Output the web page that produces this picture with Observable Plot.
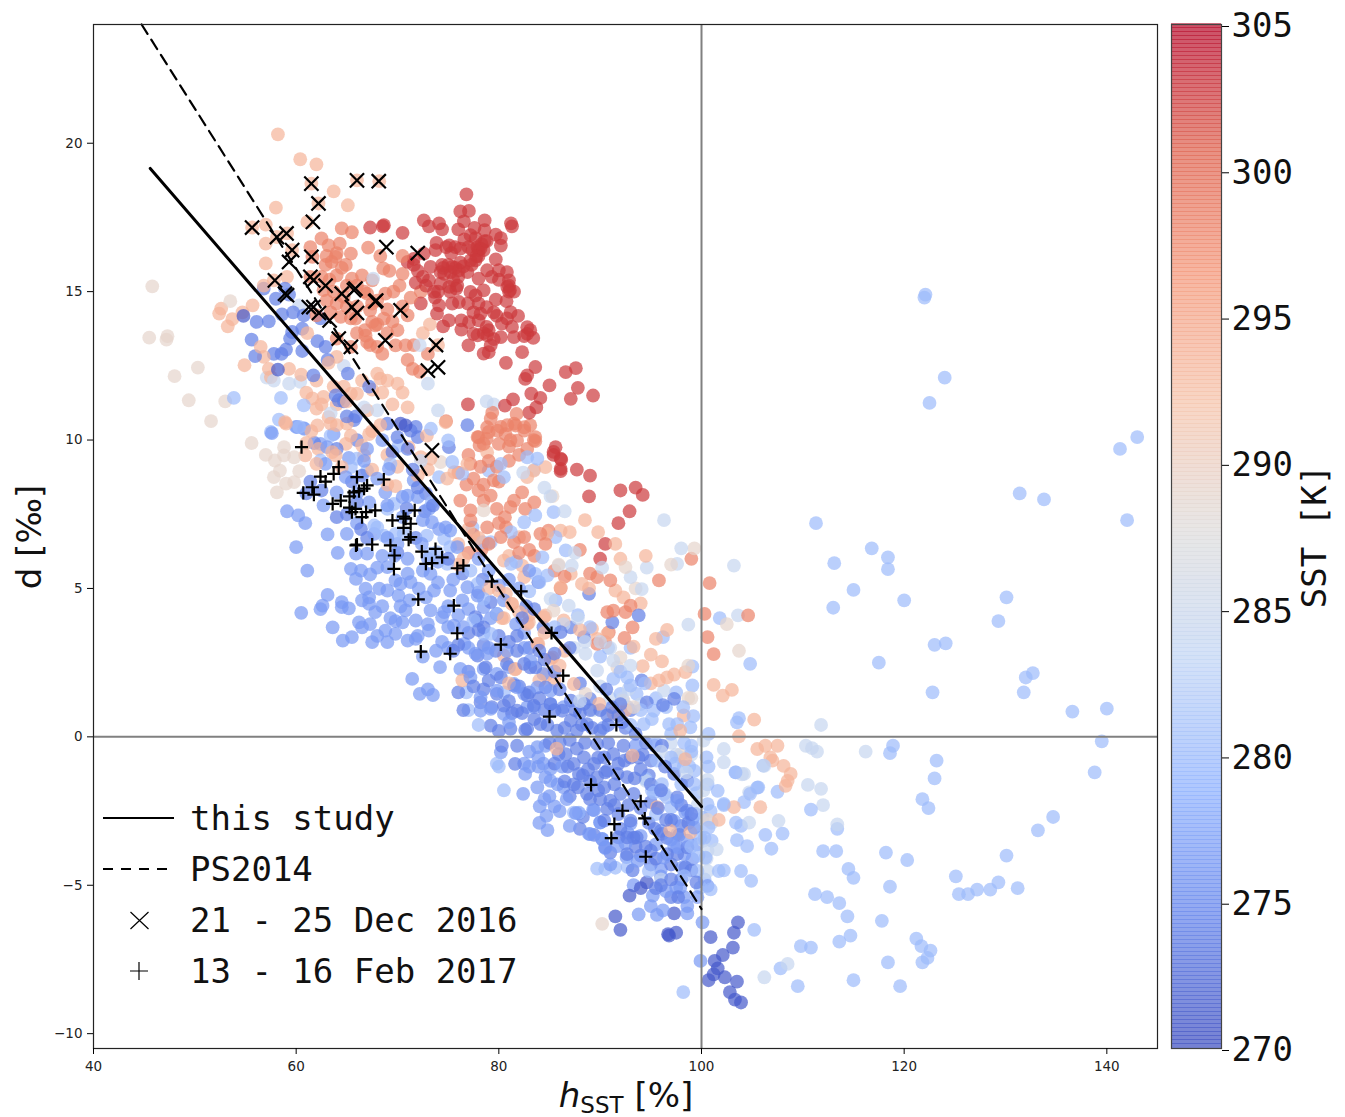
<!DOCTYPE html>
<html><head><meta charset="utf-8">
<script src="https://cdn.jsdelivr.net/npm/d3@7"></script>
<script src="https://cdn.jsdelivr.net/npm/@observablehq/plot@0.6"></script>
<style>html,body{margin:0;padding:0;background:#fff}#chart{position:relative;width:1345px;height:1117px;overflow:hidden}#chart svg{position:absolute;top:0;max-width:none}</style>
</head><body><div id="chart"></div>
<script>
const dark271=[[103.6,-6.25],[103.2,-6.6],[100.9,-6.75],[103.1,-7.1],[102.1,-7.35],[101.3,-7.55],[101.6,-7.8],[101.2,-8],[100.7,-8.2],[102.3,-8.1],[103.5,-8.25],[102.8,-8.6],[103.3,-8.85],[103.9,-8.95],[96.7,-6.65],[97.5,-6.6],[96.8,-6.7],[91.5,-6.05],[92,-6.5],[92.9,-5.35],[94,-5.1],[94.6,-4.9],[97.3,-5.95],[54.8,14.18],[58.2,12.37],[70.3,10.55],[70.8,10.49]];
const royal274=[[56.8,15.1],[58.9,15.1],[59.3,14.9],[58,14.76],[56.1,13.98],[57.3,14],[58.6,14.23],[59.7,14.3],[60.75,14.2],[59.6,13.64],[60.6,13.75],[59.4,13.42],[55.6,13.38],[55.95,12.83],[57.8,12.9],[58.55,12.9],[59,13.05],[60.6,13],[62.1,13.33],[62.9,13.14],[63.1,12.7],[62.4,14.1],[61.7,12.18],[65.1,12.24],[67.2,11.8],[63.9,11.5],[64.2,11.34],[64.7,11.3],[65.9,10.8],[65,10.8],[65.7,10.67],[69,10.55],[71.3,10.32],[72,10.1],[71.8,10.44],[76.9,10.5],[75.07,9.76],
[78,4.87],[79.2,4.54],[77.7,4.03],[78.5,3.69],[79.8,4.14],[77.9,2.74],[78.7,2.34],[79.7,2.9],[80.8,2.46],[81.8,2.9],[82.5,2.46],[83.6,2.34],[81.5,1.73],[79.8,1.45],[78.2,1.16],[80.5,1.05],[81.8,.88],[83.45,1.05],[81.15,.27],[82.6,.23],[84.1,.43],[85.1,1.11],[84.6,1.67],[86.25,.88],[87.1,1.22],[88.4,1.11],[89,1.28],[90.7,.72],[91.8,.72],[88.7,.43],[87.1,.55],[85.75,.21],[87.7,.21],[90,.21],[94.6,1.16],[96.2,1.07],[97.3,1.28],[94.1,1.9],[88.4,3.36],[87.1,3.69],[86.1,3.53],[88.9,4.82],[91.2,3.86],[93.8,4.09],[84.4,3.69],[83.9,5.21],[82.3,4],[83.1,2.34],
[85.9,-.58],[86.6,-.58],[87.4,-.91],[88.4,-.69],[87.9,-1.25],[89.4,-.91],[90.4,-.69],[91.3,-.58],[92.3,-.3],[90.7,-1.14],[89.7,-1.36],[91.7,-1.25],[92.66,-1.36],[87.4,-1.6],[90.4,-1.7],[88.7,-1.92],[91,-2.15],[92,-1.92],[93.3,-1.92],[89,-2.1],[95,-.8],[96.1,-.3],[97.3,-1.25],[98.6,-1.48],[97.6,-2.04],[96.4,-1],[89.7,-.24],[91.8,-2.6],[93,-2.82],[90.7,-2.43],[90.4,-2.82],[92.66,-3.39],[93.6,-3.39],[91.8,-3.39],[90.5,-3.72],[92.66,-3.95],[96.1,-3.27],[95,-3.83],[97.6,-3.95],[98.6,-3.72],[96.6,-3.95],[81.6,-.91],[81.8,-.3],[80.3,-.3],[79.2,.38],[82.8,.27],
[88,.8],[89,.9],[92.5,.3],[93.5,.1],[94.5,-.2],[93,-.7],[94,-1.1],[95,-1.6],[88.5,-.2],[90.8,-.2],[86.5,-1.5],[85.5,-.9],[96,-1.8],[97,-2.8],[98,-3],[99,-2.6],[95.4,-3.1],[94.5,-3.7],[83,1.5],[84.5,.9],[86,1.6],[88,1.8],[85.5,2.2],[82,1.7],[80,.2],[77,2.2],[76.5,.9],[79,1.9],[85,-.2],[92,1.1],[93,.9],[90.6,1.6],[91.8,-.9],[93.8,-.7],[87,-.1],[89,-1.5],[88.3,-2.7],[89.4,-3.3],[91,-3.9],[93.2,-4.5],[95,-4.3],[97,-4.8],[95.5,-5.1],[97.7,-5.4],
[76,1.5],[77.5,1.7],[78.5,1.6],[79.3,1],[80.2,2],[81,1.2],[81.3,.8],[82.3,.8],[82.8,1.4],[83.5,.6],[84,1.3],[84.8,.4],[85.5,.9],[86.5,.3],[87.5,.9],[88.2,.4],[89.2,.3],[90,.9],[90.8,.4],[91.2,1],[92.2,.5],[86,-.2],[86.8,-1],[87.7,-.4],[88.8,-1.1],[89.8,-.7],[90.5,-1.2],[91.4,-1.6],[92.4,-.8],[93.4,-1.4],[94.2,-.6],[94.8,-1.3],[95.4,-.3],[92.8,-2.3],[94,-2.4],[94.8,-2.9],[91.4,-2.3],[90,-2.1],[89.8,-1.8],[87,-2],[87.8,-1.7],[88.3,-1.3],[88,-3.1],[93.3,-3.4],[92,-3.1],[93.5,-3.7],[94,-4],[95.5,-4.1],[96.6,-3.4],[97.8,-3.3],[98.4,-4.4],[97,-4.3],[98,-4.8],[96,-5],[97,-5.4],[99,-4.5],[99.5,-4.9],[98.7,-2.9],[98,-2.3],[96.5,-2.8],[95.7,-2.4],[95,-2.2],[76,3.1],[77,3.5],[78.5,3.1],[80,3.4],[81,3.2],[81.8,3.4],[83,3],[84,2.9],[84.5,2.6],[85.5,2.8],[87,3],[78,3.6],[75.5,2.9],[82.7,4.4],[83.5,4.3],[78.4,5.3],[76.4,5.5],[75,6],[73.5,7.8],[72.8,8.2],[72,8.4],[71.5,9],[71,9.7],[70,10.1],[69.5,9.6],[66,10],[66.5,8.8],[65.5,8.6],[64,9.7],[62.5,8.3],[61.4,8.6],[61,8.2],[61.8,9.9],[66,7.9],[65,7.5],[64,7.4],[66.4,7],[67,6.7],[71.8,6.7],[70,6.2],[72.7,7.6],[70.9,7.7]];
const medium277=[[59.1,7.6],[60.2,7.46],[60.9,7.2],[63.1,6.82],[65,6.84],[60,6.39],[64.1,6.2],[61.1,5.6],[63.1,4.78],[62.6,4.42],[62.4,4.3],[64.5,4.54],[65.2,4.33],[64.5,4.37],[60.5,4.18],[63.6,3.69],[64.6,3.24],[65.5,3.36],[66.2,3.86],[66.5,3.69],[67.5,3.19],[69,3.19],[68.8,3.58],[69.8,3.47],[71,3.24],[71.8,3.3],[71.45,1.95],[73,1.6],[72.2,1.45],[73.5,1.41],[74.2,2.35],[73.8,2.9],[74.4,3.2],[73.1,3.58],[70.5,3.86],[71.8,3.92],[73,3.8],[74.4,4.03],[75.56,3.75],[76.6,3.13],[76.2,2.29],[77.2,2],[77.7,2.8],[78.5,2.29],[79.8,2.12],[81,2.35],[78.85,2.8],[80.8,2.9],[82.5,3],[83.1,2.57],[84.4,2.12],[83.8,1.67],[81.5,1.78],[79.8,1.56],[78.2,1.33],[78.2,.88],[79.2,.94],[80.5,.77],[82.8,1],[83.5,1],[85.1,1.1],[86.4,1],[81.8,1.67],[82.5,1.45],[85.1,1.56],
[65.4,5.66],[66.4,5.6],[67.3,5.47],[65.9,5.32],[66.85,4.99],[67.2,4.7],[67.2,4.48],[67.8,4.2],[68.2,4.99],[69,4.93],[70.1,4.76],[70.3,5.15],[69,5.72],[68.5,6.1],[67,6.17],[65.9,6.17],[67.7,6.84],[68.8,8.24],[69.15,9.03],[67.2,7.9],[64,8.24],[62.7,7.8],[64.9,8.75],[62.9,9.2],[66.7,9.3],[65.2,9.4],[63.7,10.2],[63.06,9.76],[57.6,10.23],[60,10.44],[60.8,10.38],[62.4,9.87],[72.1,4.99],[73.26,5.49],[73.6,4.93],[75.2,4.93],[76.9,5.04],[77.9,4.76],[76.4,4.6],[78.5,4.37],[79.2,4],[80.5,4.6],[77.9,3.92],[73.26,4.26],[74.6,4.2],[70.8,4.26],[69.3,4],[67.3,3.8],[71.3,5.21],[69.8,5.27],[72.4,6.5],[71,8.13],[72,8.08],[69,7.8],[70.5,8.08],[71.6,8.64],[74.1,7],[74.75,7.06],[75.2,6.95],[73.4,7.23],[73.1,7.68],[75.9,6.39],
[83.9,-.69],[83.8,-.35],[84.6,-.3],[83.9,-1],[85.1,-1.08],[82.6,-1.25],[84.6,-1.36],[85.1,-1.48],[83.8,-1.7],[82.4,-1.92],[86.25,-1],[86.4,-1.7],[86.7,-2.1],[84.04,-2.34],[85.5,-2.34],[84.7,-2.66],[84.8,-3.14],[87.6,-2.57],[87.9,-2.57],[89.3,-2.46],[88.9,-3.27],[90,-2.88],[90.2,-3.44],[97.6,-3.72],[98.6,-2.49],[99.1,-2.77],[80.2,-.52],[90.2,-3.45],[90.5,-3.75],[89.4,-2.47],[90,-2.89],[89,-3.28],[91.7,-3.68],[92.7,-3.23],[94,-3.34],[93,-2.92],[92.6,-4.05],[93.7,-4.18],[96,-4.46],[96.3,-4.07],[97.3,-3.68],[98.3,-3.96],[99.1,-4.12],[98.1,-4.41],[97.5,-5.08],[98.6,-5.7],[97.9,-5.08],[95.5,-3.62],[96,-3.17],[97.6,-2.16],[97.3,-2.83],[98.4,-2.55],[99.3,-3.06],[98.6,-3.5],[99.6,-3.62],[97,-3.45],[100.6,-5.02],[100.1,-6.25],[99.9,-7.55],[99.6,-5.4],[98.3,-5.4],[96.5,-5.2],[95.6,-6],[96.2,-5.85],[98.6,-5.95],[95.2,-5.35],[93.8,-5.98],[66,8.2],[68,8.7],[67,9.7],[68.5,10],[66,7.2],[70.5,7.4],[72.5,7.3],[70,6.5],[71,6],[73,6],[69,6.7],
[68,5.7],[69.7,6.1],[71,5.5],[72.5,5.6],[74,5.2],[75,4.4],[76,4.1],[77,4.3],[77,3],[72,3.4],[70.3,4.4],[71.2,4.6],[72.8,4.7],[74,5.9],[75.5,5.3],[78,6],[79,5.6],[80,5.1],[81,5.3],[82,5],[83,5.6],[66.5,4.6],[68.5,4.4],[69.8,3.9],[68,3.4],[72.5,2.7],[75,3],[75,3.7],[76.5,3.7],[79,3],[81.7,3.8],[82.5,3.5],[81,.5],[83,-.5],[84.4,-.9],[83,-1],[85.8,-1.6],[86,-2.5],[85,-2],[87,-3],[84.5,-2.1],[82.5,-.9],[84,-2.9],[91,-4.3],[92.5,-3.6],[93.3,-5],[95,-5.7],[96,-4.7],[93.5,-.3],[90.3,.3]];
const light280=[[141.3,9.7],[143,10.1],[142,7.3],[131.4,8.2],[133.8,8],[130.1,4.7],[129.3,3.9],[132,2],[132.7,2.15],[131.8,1.5],[136.6,.85],[140,.95],[139.5,-.15],[138.8,-1.2],[134.7,-2.7],[133.2,-3.15],[111.3,7.2],[116.8,6.35],[113.1,5.85],[118.4,6.05],[118.4,5.65],[115,4.95],[113,4.35],[120,4.6],[123,3.1],[124.1,3.15],[117.5,2.5],[122.8,1.5],[122.1,14.9],[122,14.8],[124,12.1],[122.5,11.25],[118.9,-.3],[118.6,-.55],[123.2,-.8],[123,-1.4],[121.8,-2.1],[122.4,-2.4],[118.2,-3.9],[120.3,-4.15],[118.6,-5.05],[117.8,-6.2],[121.2,-6.8],[121.7,-7.05],[122.6,-7.2],[122.3,-7.45],[121.8,-7.6],[118.4,-7.6],[119.6,-8.4],[125.1,-4.7],[125.4,-5.3],[126.3,-5.3],[127.2,-5.15],[128.5,-5.15],[129.3,-4.9],[131.2,-5.1],[130.1,-4],
[102.2,-2.3],[104.2,-2.2],[107.5,-1.85],[105.6,-1.7],[110.8,-2.45],[113.4,-3.1],[112,-3.85],[113.3,-3.85],[114.5,-4.45],[115,-4.75],[111.2,-5.3],[112.4,-5.4],[113.6,-5.6],[114.4,-6.05],[114.7,-6.7],[113.6,-6.9],[109.8,-7.05],[110.8,-7.1],[115,-8.2],[109.5,-8.4],[107.8,-7.8],[98.2,-8.6],[105.2,-6.5],[103.4,-1.2],[105.5,-1.71],[100.6,-1.6],[101.6,-1.82],[100.6,-2.27],[100.9,-2.5],[100.7,-3.06],[103.4,-2.89],[103.9,-3],[106.3,-3.3],[103.5,-3.48],[104.5,-3.68],[106.9,-3.77],[108,-3.26],[100.4,-4.07],[101.7,-4.52],[102.2,-4.5],[103.9,-4.52],[104.9,-4.85],[100.9,-5.14],[99.9,-5.08],[87.4,-2.55],[87.9,-2.55],[89.7,-4.44],[90.5,-4.46],[91.5,-4.41],[92.7,-4.38],[94.8,-4.52],[98.3,-4.69],[96.3,-1.93],[95.3,-1.88],[94.5,-1.43],[97,-2.38],[97.6,-3.28],[99.9,-3.4],[99.6,-4.52],[100.1,-2.72],[99.3,-1.6],[99.3,-1.15],
[53.85,11.42],[58.5,11.42],[60.75,11.17],[58.3,10.69],[60.1,10.44],[57.5,10.27],[60.75,10.4],[73.4,7.9],[69.3,9.2],[75,9.99],[70.1,9.8],[73.3,10.38],[74.1,8.75],[75.4,9.26],[76.4,8.86],[80.2,9.2],[82.8,9.42],[83.8,9.37],[85.4,7.57],[83.6,7.46],[80.5,8.75],[77.4,7.06],[78.4,6.56],[79.2,6.56],[81.2,5.83],[84.3,6.05],[85.6,6.73],[86.6,6.28],[84.8,5.44],[83.6,5.49],[84,5.21],[79,8.97],[82.5,7.23],[74.6,6.67],[72.9,6.78],[70.6,6.84],[73.9,6.22],[73.26,6.17],[74.9,5.83],[77.2,5.6],[77.9,5.15],[78.5,4.65],[79.8,4.14],[77.5,3.92],[69.65,7.85],[69,7.68],[68,7.06],[68.65,6.78],[69.8,6.84],[67.7,7.12],[63.4,10.15],[65.4,9.09],[66,9.37],[67,8.97],[62.4,9.31],[60.3,10.44],[75.2,6.39],[78.5,3.47],[79.2,3.47],
[99.1,1.73],[99.1,2.37],[96.2,3.36],[104.8,2.46],[101.8,4],[95.3,.88],[96.8,.43],[94.3,.43],[97.6,.43],[95.1,.6],[92.66,2],[91.3,1.95],[92,1.45],[93,1.73],[93.6,1.45],[95.6,-.8],[94.5,-1.42],[96.1,-1.59],[96.6,-2.04],[95.1,-1.81],[97,-.69],[98.25,-1],[95.5,-2.6],[98.9,.32],[100.7,.1],[100.5,-.69],[103.35,-1.2],[102.2,-2.26],[106.1,-.97],[104.8,-1.92],[103.7,.63],[103.5,.49],[80.5,1.5],[78,.4],[77,.9],[76.8,1.5],[80,-1],[80.5,-1.8],[79.8,-.9],
[87.8,4.1],[89,3.7],[90,2.7],[90.8,3],[92,2.2],[93,3],[94.4,1.8],[95.5,1.3],[96.5,1],[97.5,1.5],[98.2,1],[99.2,.7],[94,.9],[93,.4],[92.7,1],[95.5,-.2],[97,.1],[98.3,-.2],[99,-.5],[98.8,-1],[99.5,-1.9],[98,-1.6],[99,-.3],[97.4,-.9],[99.4,-2.6],[100.7,-1],[100.3,-3.4],[101,-3.5],[100.3,-4.8],[99.7,-4],[99,-3.7],[85.5,3.7],[85.6,4.6],[83,4.9],[81.7,5.9],[81.2,6.9]];
const pale284=[[103.2,5.77],[94.6,5.7],[93,5.38],[86.9,4.42],[94.1,4.98],[85.9,5.77],[87.2,5.77],[97.6,5.83],[103.6,4.09],[85.1,4.65],[86.4,3.8],[87.4,3],[88.55,2.8],[91.3,2.57],[89.7,2.23],[96.3,1.56],[92.2,1.28],[92.8,1.61],[102.2,-.41],[102.2,-.86],[104.2,-1.25],[104.7,-1.87],[95.3,-1.7],[96.4,-1.92],[94.5,-1.48],[97.9,-.69],[100.2,-.13],[111.8,.4],[116.2,-.5],[110.5,-1.62],[111.8,-1.75],[112,-2.3],[113.4,-2.95],[110.3,-.3],[110.9,-.38],[111.4,-.5],[108.5,-7.65],[106.2,-8.1],[104,-1.26],[106.2,-.98],[104.7,-2.89],[107.6,-2.83],[101.5,-3.79],[100.6,-4.52],[96,-4.8],[100.6,-3.84],[100.6,-1.45],[101,-2.9],[99.6,-2.3],[60.3,14.54],[57.1,12.1],[57.8,12],[59.3,11.9],[60.4,11.96],[64.7,12.5],[66.7,11.1],[68,11],[63.4,10.9],[67.6,15.44],[74,11],[72.2,13.2],[73,11.9],[72.3,9.3],[78.8,11.3],[79.5,11.2],[85.1,8.1],[86.5,7.6],[87.5,6.2],[90.2,5.7],[98,6.35],[96.3,7.3],[84.5,8.4],[83.5,9],[82.4,8.9],[98.7,3.78],[88,1.2],[89.3,.9],[91,1.3],[90,1.7],[94,1.1],[96,-.5],[97,-.2],[97.5,-.6],[98.5,-1.2],[99,-.6],[99.3,-3.1],[100.2,-3.5],[100.5,-4.1],[100.2,-1.8],[91,3],[90,3.2],[88.5,3.2],[87.8,4],[93,2.4]];
const grey288=[[45.8,15.18],[53.5,14.68],[57.9,9.31],[58.4,8.97],[57.8,8.75],[59,8.53],[59.8,8.58],[58.1,8.24],[60.3,8.95],[58.8,9.48],[59.8,9.42],[58.8,9.76],[85.3,8.11],[85.9,5.8],[78.5,7.63],[74.25,9.26],[90.2,-6.3],[92.5,5.72],[93.5,5],[102.5,3.8],[92,2.68],[91.7,2.34],[92.3,1.22],[93.3,1],[85.4,4.25],[88.55,1.45],[97.9,-.6],[100.6,-2.8],[45.5,13.45],[47.3,13.5],[47.2,13.38],[50.3,12.44],[48,12.15],[49.4,11.34],[53,11.3],[51.6,10.64],[55.6,9.9],[57,9.5],[97,5.8],[99.3,6.35],[98.7,2.4],[99,1.3],[98.7,1.31],[103.7,2.9]];
const peach294=[[58.2,20.3],[60.4,19.46],[62,19.29],[63.7,18.38],[66,18.75],[68.2,18.72],[65.1,17.91],[58,17.83],[61.1,17.35],[55.65,17.16],[57,17.26],[57,16.62],[58.1,16.84],[59.1,16.96],[59.6,16.4],[57,15.95],[59.1,15.5],[57.8,15.38],[56.8,15.2],[61.5,18.64],[62.2,17.97],[52.6,14.43],[52.4,14.26],[53.7,14.07],[53.25,13.83],[54.7,14.3],[55.7,14.54],[54.9,12.52],[56.5,13.14],[56.8,12.8],[57.3,12.4],[57.5,12.12],[59.3,12.4],[60.5,12.2],[62,12],[62,11.06],[63.7,11.8],[68,12.24],[66,11.56],[68.3,12.07],[64.7,11.8],[65.4,11.56],[61.1,13.6],[64,12.8],[63.2,12.6],[61.6,11.4],[62.7,11.45],[63.2,10.77],[58.9,10.6],[68.3,10.5],
[76,6.5],[76.9,9.2],[75.6,8.92],[74.9,8.7],[72.9,10.15],[71.1,9.76],[72.3,9.42],[73.26,9.37],[78.85,9.59],[82.8,8.75],[83.45,8.97],[84.6,9.09],[86.1,6.95],[84.75,6.84],[82,6.73],[80.5,5.94],[82.3,5.77],[82.5,5.38],[80,4.93],[80.7,4.82],[81.3,4.48],[82.8,3.8],[80.5,4],[83.8,3.13],[80.5,2.74],[81.65,2.29],[76.4,1.9],[84.45,4.03],[85.3,2.68],[69.8,8.45],[74.75,10.6],[62.1,10.49],[63.4,10.55],[59,10.55],[65,10.55],[65.4,10.15],[63.9,9.48],[63.56,9.59],[62.2,9.7],[60.9,9.48],[66.5,9.82],[66.7,9.48],[64.9,9.87],[64.5,9.09],[67.2,10.2],
[91.5,4.93],[92.3,4.7],[85.1,2.63],[83.9,3.13],[82.96,3.86],[81.6,2.27],[81.3,4.48],[80.3,4],[87.1,5.49],[88.2,5.15],[88.9,5],[86.1,5.04],[84.6,4.09],[86.4,3.92],[89.2,3.64],[89.7,3.3],[90.7,3.47],[87.4,1.78],[89.9,1.11],[93.2,-.63],[98.4,-.75],[95.6,-2.37],[96.9,-3.16],[98.9,-3.22],[93.3,3.04],[95,2.77],[94.2,2.38],[96.1,2.54],[95,1.8],[95.8,1.9],[96.6,2],[97.3,2.1],[98.4,2.18],[101.2,1.75],[103,1.58],[102.1,1.39],[98.25,.72],[97.9,.21],[105.2,.58],[103.7,.02],[105.5,-.41],[106.8,-.69],[103.2,-2.37],[101.7,-2.8],[105.8,-2.37],[106.3,-.3],[107.5,-.3],[108.1,-.98],[108.8,-1.25],[108.5,-1.48],[108.3,-1.65],[107,-.8],[87,6.9],[88.5,7.3],[89.8,6.9],[91.5,6.5],[92,6],[94.5,6.1],[73.2,13.9],[74,13.2],[72.5,13.6],
[88,3.6],[85.5,1.9],[86,2.4],[86.5,2.9],[81,1.8],[84.5,3.5],[79,5],[78,6.7],[76.5,6],[76,5.8],[77,7],[81,6.1],[82,4.2],[83,4.1],[84.7,2.1],[84,1.9],[85.7,-.4],[91.3,.8],[92.5,.9],[94,4.5],[95.5,3.3],[96.6,3.6],[61,11.6],[62.5,11.2],[64,11.2],[65,11.3],[66.5,12],[67.5,11.7],[67,11],[69,12],[70,11.9],[70.5,11.6],[71,11.1],[69.5,11.2],[68.5,11.6],[64,10.5],[61.5,10.3],[67.5,10.3],[69,9.5],[73,9],[72,8.8],[70,9.1],[67.5,9],[69,8.5],[62,9.2],[61,9.9]];
const salmon298=[[64.5,17.13],[65.5,17],[62.5,16.79],[63.2,16.56],[64.3,16.62],[61.4,16.5],[67.1,16.48],[65.4,16.28],[63.9,16.17],[68.3,16.2],[62.9,15.9],[64.9,15.9],[68.6,15.78],[61.6,16.17],[64,15.55],[65.5,15.44],[66.5,15.55],[67.5,15.38],[61.4,15.5],[62.7,15.05],[67,14.93],[68.8,14.93],[64.7,14.82],[68,14.7],[63.4,14.3],[64.4,14.15],[67.5,13.98],[68.65,14.09],[66.8,13.7],[65.85,14.09],[68,13.14],[64,13.42],[65.4,13.14],[67.3,14.37],[67.8,13.86],[69.8,13.19],[70.8,13.19],[66.85,13.52],[65.4,14.1],[69.6,15],[70.5,15.6],[71.3,14.8],[69.5,14],[71,14.2],[70.5,16.2],[72.3,15],[72.2,12.3],[73,12.9],[71.6,13.2],[79.35,10.92],[81.75,10.88],[79.2,10.72],[80.83,10.5],[81.5,10.55],[78.85,10.43],[79.85,10.32],[80.66,10.2],[78,10.1],[78.8,10.04],[78.1,9.82],[81,9.78],[83.6,10.1],[83.6,9.96],[81.8,9.98],[83.1,10.5],[82.5,10.43],[74.8,10.64],[77.2,9.2],[78.5,8.5],[79.5,8.64],[78,8.3],[79.2,8.13],[76.2,7.96],[78.5,7.96],[77.2,7.63],[79.8,7.68],[81.15,7.74],[82.3,8.24],[81.5,7.96],[80.7,7.06],[78.85,7.06],[77.2,7.29],[80.2,6.73],[81.5,6.56],[82.5,6.73],[82.6,7.68],[84.1,6.84],[84.9,6.95],[84.6,6.5],[86.1,5],[79,10.27],[77.9,10.1],[80.2,10.44],[81.65,10.49],[83.45,10],[82.5,10.32],[81.15,10],[80,9.87],[78.5,9.87],[89.7,5.38],[91,5.27],[95.8,5.27],[100.8,5.18],[100.3,4.14],[104.6,4.09],[100.6,3.36],[101.2,2.79],[90.7,4.2],[91.3,4.25],[92.5,4.2],[93,4.42],[93.2,3.69],[92.4,3.33],[90.85,3.52],[89.7,3.13],[90.5,3.19],[99,6],[88,6.3],[89,5.5],
[63,16.2],[63.5,16],[64,16.3],[64.5,15.8],[63.3,15.4],[62.5,15.5],[63.7,15],[65,15.2],[66,15.2],[66.7,15],[67.5,14.6],[66,14.5],[65,14.5],[63,14.7],[62,14.2],[64,14.6],[69,14.4],[70,13.7],[69,13.6],[68,13.9],[67.3,13.2],[67,13.3],[66,13.6],[68.5,12.9],[70.5,14.5],[69.2,15.7],[70.2,15.2],[71,12.7],[71.5,12.4],[79,9.3],[79.8,9.1],[80,8.6],[77.5,8.7],[76.8,8.5],[76,8.9],[78.2,9.1],[77,9.5],[81,9.3],[82,9.5],[82.8,9.7],[80.6,7.4],[80,7.2],[79,6.5],[78.3,6.3],[77.5,6.8],[77,6.2],[83,6.3],[83.5,6.1],[82,6.2],[83.5,7.9],[85.5,5.6],[86.5,5.4]];
const red302=[[76.8,18.28],[76.2,17.7],[77.05,17.72],[76.55,17.37],[72.6,17.4],[73.1,17.2],[74.1,17.3],[74.4,17.1],[78.6,17.4],[77.6,17.15],[78.6,17.07],[81.2,17.3],[81.3,17.2],[68.66,17.24],[68.55,17.2],[67.3,17.16],[70.5,16.98],[79.7,16.92],[80.2,16.8],[80.2,16.55],[78.8,16.7],[77.2,16.9],[76.6,16.76],[73.85,16.64],[73.75,16.4],[75.1,16.56],[76.2,16.45],[77,16.5],[78.2,16.45],[78.5,16.4],[78,16.2],[77.7,16.05],[79.7,16.09],[72.6,16.28],[71.6,16.1],[71.6,15.9],[73.26,15.83],[74.4,15.9],[75.4,15.83],[76.2,15.98],[77.2,16.05],[78.85,15.72],[80,15.72],[80.8,15.66],[74.25,15.66],[75.24,15.66],[76.06,15.72],[76.9,15.66],[78,15.44],[81,15.38],[80.83,15.16],[81.5,15],[71.8,15.3],[73.1,15.38],[74.25,15.27],[75.1,15.16],[75.9,15.2],[77.2,14.99],[78.5,15.04],[77.7,14.87],[73.6,14.99],[72.3,14.6],[74.1,14.54],[75.4,14.6],[76.06,14.65],[76.95,14.6],[79.7,14.73],[80.76,14.68],[73.9,14.26],[78.8,14.48],[81.16,14.31],[81.9,14.18],[78.2,14.26],[75.07,14.03],[74.5,13.83],[76.3,14.03],[77.05,13.97],[78,14.03],[79.8,14.18],[80.3,13.92],[76.3,13.72],[78.8,13.81],[81.3,13.81],[83.1,13.7],[82.8,13.58],[83.4,13.44],[77.5,13.58],[77.9,13.53],[78.85,13.53],[80.2,13.47],[81.5,13.47],[77,13.19],[79.2,13.19],[82.3,12.96],[78.5,12.91],[79,12.96],[80.7,12.6],[83.6,12.46],[82.8,12.18],[82.6,12.06],[85,11.84],[86.6,12.29],[87.6,12.42],[87.8,11.76],[89.3,11.5],[87.1,11.39],[83.2,11.56],[84.1,11.42],[81.4,11.37],[80.6,11.16],[76.95,11.2],[83.7,11.1],[83,10.92],[85.6,9.76],[85.4,9.5],[86.16,9.34],[86.1,9.03],[87.7,9],[85.4,9.6],[86.1,9.37],[86.1,8.95],[89,8.8],[88.9,8.1],[92,8.3],[93.5,8.4],[94.2,8.15],[92.9,7.6],[91.8,7.2],[90.5,6.5],[90,6],
[74.5,15.8],[75,15.9],[75.7,15.8],[76.5,15.85],[77.3,15.9],[77.8,16.2],[78,16.4],[78.3,16.6],[78.6,16.7],[77.9,16.5],[75.3,16.3],[74.8,16.5],[75.7,16.5],[74.6,15.6],[76,15.5],[75.5,15.4],[75.2,15],[75.8,15.1],[81,15.2],[81.1,15.05],[81,15],[82.5,13.5],[82.8,13.8],[78.5,13.6],[79,13.7],[79.5,13.4],[77.5,14.3],[78,14.6],[73.7,14.8],[74,15],[72.5,15.5],[72,15.7],[71,16],[72.8,15.2],[80,15.4],[79.3,15.5],[79.5,14.3],[80.8,14.1],[76,17.1],[77.7,16.8],[77.4,16.4]];
const timesDec2016=[[61.5,18.64],[66,18.75],[68.15,18.72],[62.2,17.97],[61.65,17.35],[55.65,17.16],[58.1,16.84],[59.05,16.96],[59.6,16.4],[59.3,16],[61.5,16.17],[57.9,15.38],[61.4,15.5],[61.7,15.38],[62.9,15.2],[65.7,15.05],[65.85,15.1],[64.5,14.93],[67.9,14.7],[58.9,14.93],[59.1,14.88],[61.25,14.48],[61.7,14.48],[62.25,14.28],[63.3,14.03],[65.5,14.48],[66,14.28],[68.8,13.36],[64.2,13.42],[65.4,13.14],[68.9,16.5],[72,16.3],[70.3,14.37],[67.8,14.67],[73.8,13.2],[74,12.45],[73,12.34],[73.4,9.65]];
const plusFeb2017=[[60.53,9.76],[64.2,9.09],[63.7,8.86],[62.4,8.77],[62.9,8.6],[66,8.75],[68.65,8.67],[61.6,8.41],[61.75,8.16],[60.7,8.22],[67,8.47],[66.7,8.36],[66.2,8.28],[65.7,8.24],[65.27,8.1],[64.4,7.96],[63.6,7.85],[65.27,7.72],[65.86,7.68],[65.5,7.57],[66.9,7.57],[66.5,7.4],[67.8,7.63],[71.7,7.63],[70.6,7.42],[69.5,7.29],[70.8,7.35],[71.3,7.18],[70.6,7.04],[71.3,6.73],[71.1,6.64],[66,6.48],[65.9,6.45],[67.5,6.48],[69.3,6.45],[69.7,6.11],[69.65,5.66],[72.4,6.24],[73.75,6.33],[74.4,6.05],[72.8,5.83],[73.4,5.85],[75.9,5.68],[76.5,5.77],[79.3,5.24],[82.2,4.9],[72.05,4.63],[75.56,4.42],[75.9,3.49],[80.2,3.11],[72.3,2.87],[75.2,2.8],[85.2,3.5],[86.35,2.06],[85,.68],[91.6,.4],[89.1,-1.62],[94,-2.17],[92.2,-2.49],[94.4,-2.75],[91.4,-2.94],[91.1,-3.41],[94.5,-4.04]];
const thisStudy=[[45.6,19.15],[100,-2.35]];
const ps2014=[[44.75,24],[100,-5.8]];
const xTicks=[40,60,80,100,120,140];
const yTicks=[-10,-5,0,5,10,15,20];
const sstTicks=[270,275,280,285,290,295,300,305];
const legendNames=["this study","PS2014","21 - 25 Dec 2016","13 - 16 Feb 2017"];
const coolwarmColors=["#3b4cc0","#6282ea","#8db0fe","#c0d4f5","#dddcdc","#f5c4ac","#f4987a","#de614d","#b40426"];
const sstDomain=[270,274.375,278.75,283.125,287.5,291.875,296.25,300.625,305];
const bands=[[dark271,271],[royal274,274],[medium277,276.5],[light280,280],[pale284,284],[grey288,289],[peach294,293.5],[salmon298,298],[red302,302.5]];
const rows=bands.flatMap(([a,s])=>a.map(([h,d])=>({h,d,s})));
const frac=v=>v-Math.floor(v);
const drawn=d3.sort(rows,r=>frac(r.h*7.31+r.d*13.77));
const colorOpt={type:"linear",domain:sstDomain,range:coolwarmColors,interpolate:"rgb",clamp:true};
const mono='"DejaVu Sans Mono",monospace', sans='"DejaVu Sans",sans-serif';
function overlay(i,s,v,dim){
  const g=d3.create("svg:g").attr("text-anchor","start");
  const t=(x,y,str,size=34,fam=mono)=>g.append("text").attr("x",x).attr("y",y).attr("font-family",fam).attr("font-size",size).attr("fill","#111").attr("text-anchor","start").text(str);
  const rowsY=[830,881,932,983];
  legendNames.forEach((n,k)=>t(190,rowsY[k],n));
  g.append("line").attr("x1",103).attr("x2",174).attr("y1",818).attr("y2",818).attr("stroke","#000").attr("stroke-width",2.2);
  g.append("line").attr("x1",103).attr("x2",174).attr("y1",869).attr("y2",869).attr("stroke","#000").attr("stroke-width",2.2).attr("stroke-dasharray","10,8");
  g.append("path").attr("d","M130.5,912L148.5,929M148.5,912L130.5,929").attr("stroke","#000").attr("fill","none").attr("stroke-width",1.2);
  g.append("path").attr("d","M130,971H148M139,962V980").attr("stroke","#000").attr("fill","none").attr("stroke-width",1.2);
  const xl=g.append("text").attr("x",626).attr("y",1107).attr("text-anchor","middle").attr("font-family",sans).attr("font-size",34).attr("fill","#111");
  xl.append("tspan").attr("font-style","oblique").text("h");
  xl.append("tspan").attr("font-size",23).attr("dy",6).text("SST");
  xl.append("tspan").attr("dy",-6).text(" [%]");
  g.append("text").attr("transform","translate(41,537) rotate(-90)").attr("text-anchor","middle").attr("font-family",sans).attr("font-size",34).attr("fill","#111").text("d [‰]");
  return g.node();
}
const main=Plot.plot({
  width:1345,height:1117,marginLeft:93,marginRight:188,marginTop:24,marginBottom:69,
  style:{background:"transparent",overflow:"visible"},
  x:{domain:[40,145]},y:{domain:[-10.5,24]},
  color:colorOpt,
  marks:[
    Plot.dot(drawn,{x:"h",y:"d",fill:"s",r:6.9,fillOpacity:0.7,stroke:"none"}),
    Plot.ruleX([100],{stroke:"#808080",strokeWidth:2}),
    Plot.ruleY([0],{stroke:"#808080",strokeWidth:2}),
    Plot.line(thisStudy,{x:"0",y:"1",stroke:"#000",strokeWidth:3}),
    Plot.line(ps2014,{x:"0",y:"1",stroke:"#000",strokeWidth:2.2,strokeDasharray:"11,7"}),
    Plot.dot(timesDec2016,{x:"0",y:"1",symbol:"times",stroke:"#000",strokeWidth:2.2,r:6.5,fill:"none"}),
    Plot.dot(plusFeb2017,{x:"0",y:"1",symbol:"plus",stroke:"#000",strokeWidth:2.2,r:4.3,fill:"none"}),
    Plot.frame({stroke:"#222",strokeWidth:1.2}),
    Plot.axisX(xTicks,{ticks:xTicks,tickSize:6,tickPadding:7,fontSize:13.5,fontFamily:sans,fill:"#222",label:null,tickFormat:d3.format("d")}),
    Plot.axisY(yTicks,{ticks:yTicks,tickSize:6,tickPadding:5,fontSize:13.5,fontFamily:sans,fill:"#222",label:null}),
    overlay
  ]});
const levels=d3.range(0,256).map(k=>270+k*35/256);
const stepSST=35/256;
const bar=Plot.plot({
  width:174,height:1117,marginLeft:1,marginRight:123,marginTop:24,marginBottom:69,
  style:{background:"transparent",overflow:"visible"},
  x:{domain:[0,1],axis:null},y:{domain:[270,305]},
  color:colorOpt,
  marks:[
    Plot.rect(levels,{x1:0,x2:1,y1:d=>d,y2:d=>d+stepSST*1.2,fill:d=>d,fillOpacity:0.7,inset:0}),
    Plot.frame({stroke:"#444",strokeWidth:1.2}),
    Plot.axisY(sstTicks,{anchor:"right",ticks:sstTicks,tickSize:7,tickPadding:3,fontSize:34,dy:2,fontFamily:mono,fill:"#111",label:null,tickFormat:d3.format("d")}),
    Plot.text(["SST [K]"],{text:d=>d,frameAnchor:"right",dx:94,rotate:-90,fontSize:34,fontFamily:mono,fill:"#111",lineAnchor:"middle",textAnchor:"middle"})
  ]});
bar.style.left="1170px";
main.style.left="0";
const box=document.getElementById("chart");
box.append(main,bar);
</script></body></html>
